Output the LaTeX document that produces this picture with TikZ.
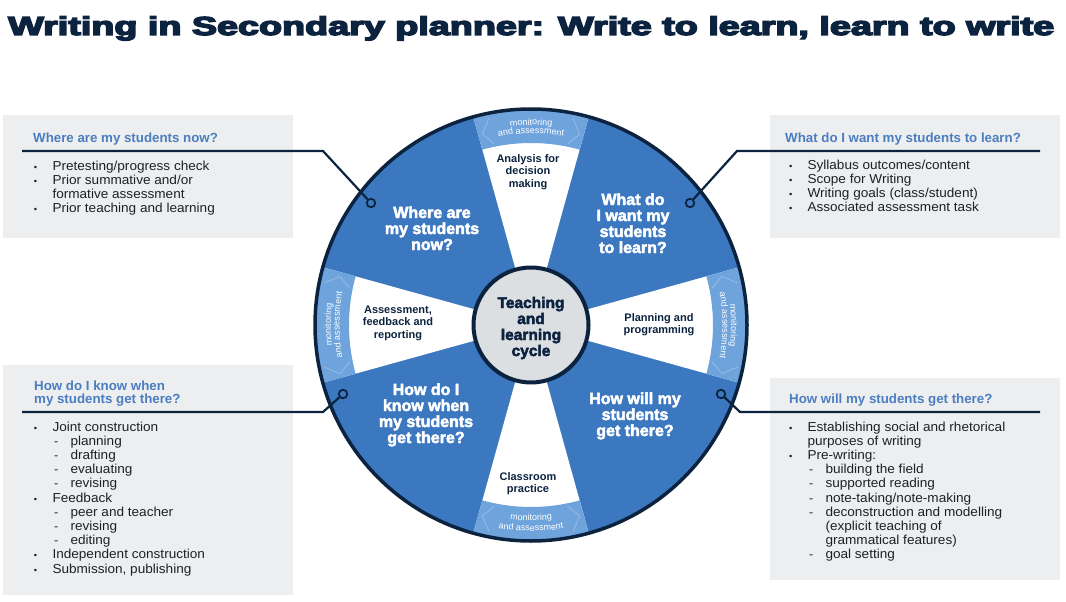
\documentclass[tikz,border=0pt]{standalone}
\usepackage{graphicx}
\usepackage{fontspec}
\setmainfont{Liberation Sans}
\newfontfamily\bodyfont{Liberation Sans}[FakeStretch=1.045]
\newfontfamily\titlefont{Liberation Sans Bold}[FakeBold=5]
\newfontfamily\heavyfont{Liberation Sans Bold}[FakeBold=3]
\usetikzlibrary{decorations.text}
\definecolor{navy}{HTML}{0C2340}
\definecolor{wblue}{HTML}{3C78BF}
\definecolor{lband}{HTML}{6EA3DB}
\definecolor{hblue}{HTML}{4B7EC1}
\definecolor{boxgrey}{HTML}{EDEEEF}
\definecolor{hubgrey}{HTML}{DCDFE2}
\definecolor{bodytxt}{HTML}{1E2028}

\newcommand\mylines[6]{%
  \foreach \lntxt [count=\idx] in {#6}{%
    \node[#5, anchor=base] (#1-\idx) at ({#2}, {-(#3)-(\idx-1)*(#4)}) {\lntxt};}}

\newcommand\mylist[4]{%
  \foreach \kk/\itemtxt [count=\idx] in {#4}{%
    \pgfmathsetmacro\yy{-(#3)-14.2*(\idx-1)}%
    \ifnum\kk=1 \node[bul] (#1-b\idx) at ({#2-0.5},\yy) {•};\fi
    \ifnum\kk=3 \node[dsh] (#1-d\idx) at ({#2+19.5},\yy) {-};\fi
    \ifnum\kk<3 \node[body] (#1-\idx) at ({#2+18},\yy) {\itemtxt};\else\node[body] (#1-\idx) at ({#2+36},\yy) {\itemtxt};\fi}}

\tikzset{
  box/.style={fill=boxgrey, draw=none, inner sep=0, anchor=north west},
  body/.style={anchor=base west, inner sep=0, font=\bodyfont\fontsize{13}{14}\selectfont, text=bodytxt},
  bul/.style={anchor=base west, inner sep=0, font=\bodyfont\fontsize{9}{9}\selectfont, text=bodytxt},
  dsh/.style={anchor=base west, inner sep=0, font=\bodyfont\fontsize{12}{12}\selectfont, text=bodytxt},
  head/.style={anchor=base west, inner sep=0, font=\bfseries\fontsize{13.3}{13}\selectfont, text=hblue},
  wq/.style={inner sep=0, font=\heavyfont\fontsize{16}{16}\selectfont, text=white},
  wl/.style={inner sep=0, font=\bfseries\fontsize{11}{11}\selectfont, text=navy},
  hubtxt/.style={inner sep=0, font=\heavyfont\fontsize{15.5}{15.5}\selectfont, text=navy},
  conn/.style={draw=navy, line width=2.2},
  ring/.style={circle, draw=navy, line width=1.8, fill=wblue, minimum size=8.5pt, inner sep=0},
  hub/.style={circle, draw=navy, line width=4, fill=hubgrey, minimum size=115pt, inner sep=0},
  chev/.style={draw=white, draw opacity=0.22, line width=1.1},
  matext/.style={decorate, decoration={text along path, text align=center, text color=white, text={|\fontsize{9}{9}\selectfont|#1}}}
}

\begin{document}
\begin{tikzpicture}[x=1pt, y=1pt]
\path[use as bounding box, fill=white] (0,0) rectangle (1066,-602);

% title
\node[anchor=base west, inner sep=0, text=navy] (title) at (8,-35)
  {\resizebox{1046pt}{\height}{\titlefont\fontsize{26}{26}\selectfont Writing in Secondary planner: Write to learn, learn to write}};

% boxes
\node[box, minimum width=290pt, minimum height=123pt] (tlbox) at (3,-115) {};
\node[box, minimum width=290pt, minimum height=123pt] (trbox) at (770,-115) {};
\node[box, minimum width=290pt, minimum height=230pt] (blbox) at (3,-365) {};
\node[box, minimum width=290pt, minimum height=202pt] (brbox) at (770,-378) {};

% wheel
\begin{scope}[shift={(531,-325)}]
  \fill[wblue] (0,0) circle (216);
  \foreach \a in {90,0,180,270} {
    \fill[white] (0,0) -- (\a-15.5:216) arc[start angle=\a-15.5, end angle=\a+15.5, radius=216] -- cycle;
    \fill[lband] (\a-15.5:182) arc[start angle=\a-15.5, end angle=\a+15.5, radius=182] -- (\a+15.5:216) arc[start angle=\a+15.5, end angle=\a-15.5, radius=216] -- cycle;
    \draw[chev] (\a+11.5:211) -- (\a+14.3:197) -- (\a+11.5:185);
    \draw[chev] (\a-11.5:211) -- (\a-14.3:197) -- (\a-11.5:185);
  }
  \draw[navy, line width=3.5] (0,0) circle (216);
  % monitoring and assessment
  \path[matext=monitoring] (110:200) arc[start angle=110, end angle=70, radius=200];
  \path[matext=and assessment] (110:191.5) arc[start angle=110, end angle=70, radius=191.5];
  \path[matext=monitoring] (20:200) arc[start angle=20, end angle=-20, radius=200];
  \path[matext=and assessment] (20:191.5) arc[start angle=20, end angle=-20, radius=191.5];
  \path[matext=monitoring] (200:200) arc[start angle=200, end angle=160, radius=200];
  \path[matext=and assessment] (200:191.5) arc[start angle=200, end angle=160, radius=191.5];
  \path[matext=monitoring] (250:195.5) arc[start angle=250, end angle=290, radius=195.5];
  \path[matext=and assessment] (250:206) arc[start angle=250, end angle=290, radius=206];
  \node[hub] (hub) at (0,0) {};
\end{scope}

% connectors
\coordinate (tlA) at (22,-151);  \coordinate (tlB) at (323,-151);
\coordinate (trA) at (1040,-151); \coordinate (trB) at (737,-151);
\coordinate (blA) at (22,-412);  \coordinate (blB) at (323,-412);
\coordinate (brA) at (1040,-412); \coordinate (brB) at (740,-412);
\node[ring] (tlR) at (371,-203) {};
\node[ring] (trR) at (690,-203) {};
\node[ring] (blR) at (343,-394) {};
\node[ring] (brR) at (721,-394) {};
\draw[conn] (tlA) -- (tlB) -- (tlR);
\draw[conn] (trA) -- (trB) -- (trR);
\draw[conn] (blA) -- (blB) -- (blR);
\draw[conn] (brA) -- (brB) -- (brR);

% wheel texts
\mylines{qwhere}{432}{218}{16}{wq}{Where are,my students,now?}
\mylines{qwhat}{633}{205}{16}{wq}{What do,I want my,students,to learn?}
\mylines{qknow}{426}{395}{16}{wq}{How do I,know when,my students,get there?}
\mylines{qwill}{635}{404}{16}{wq}{How will my,students,get there?}
\mylines{hubt}{531}{308}{16}{hubtxt}{Teaching,and,learning,cycle}
\mylines{wana}{528}{162}{12.5}{wl}{Analysis for,decision,making}
\mylines{wass}{398}{313}{12.5}{wl}{{Assessment,},feedback and,reporting}
\mylines{wplan}{659}{321}{12.5}{wl}{Planning and,programming}
\mylines{wclass}{528}{480}{12.5}{wl}{Classroom,practice}

% box headings
\node[head] (tlh) at (33,-142) {Where are my students now?};
\node[head] (trh) at (785,-142) {What do I want my students to learn?};
\node[head] (blh1) at (34,-390) {How do I know when};
\node[head] (blh2) at (34,-403) {my students get there?};
\node[head] (brh) at (789,-403) {How will my students get there?};

% lists
\mylist{tl}{34.3}{170}{1/{Pretesting/progress check},1/{Prior summative and/or},2/{formative assessment},1/{Prior teaching and learning}}
\mylist{tr}{789.3}{169}{1/{Syllabus outcomes/content},1/{Scope for Writing},1/{Writing goals (class/student)},1/{Associated assessment task}}
\mylist{bl}{34.3}{431}{1/{Joint construction},3/{planning},3/{drafting},3/{evaluating},3/{revising},1/{Feedback},3/{peer and teacher},3/{revising},3/{editing},1/{Independent construction},1/{Submission, publishing}}
\mylist{br}{789.3}{431}{1/{Establishing social and rhetorical},2/{purposes of writing},1/{Pre-writing:},3/{building the field},3/{supported reading},3/{note-taking/note-making},3/{deconstruction and modelling},4/{(explicit teaching of},4/{grammatical features)},3/{goal setting}}
\end{tikzpicture}
\end{document}
